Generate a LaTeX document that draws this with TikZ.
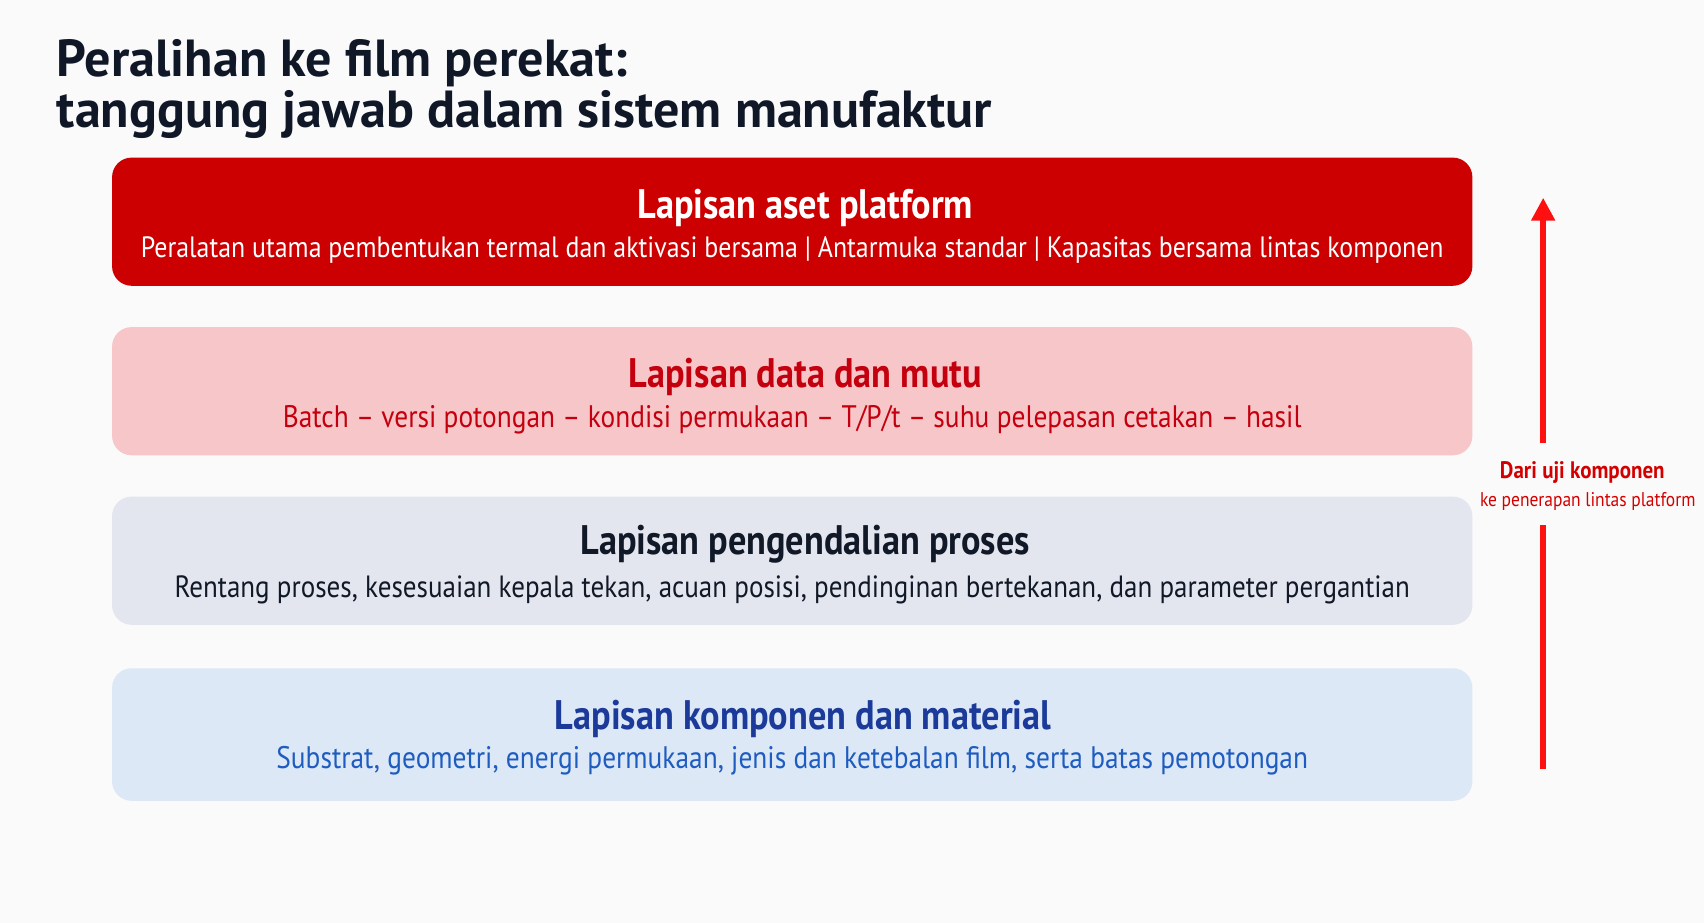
\documentclass[tikz,border=0pt]{standalone}
\usepackage{fontspec}
\setmainfont{PT Sans}
\newfontfamily\narrowsans[FakeStretch=0.88]{PT Sans}
\usetikzlibrary{positioning}
\usetikzlibrary{arrows.meta}
\definecolor{bg}{HTML}{FAFAFA}
\definecolor{titlenavy}{HTML}{101828}
\definecolor{platred}{HTML}{CC0000}
\definecolor{datapink}{HTML}{F7C6C9}
\definecolor{datared}{HTML}{C4000E}
\definecolor{procgray}{HTML}{E3E6EE}
\definecolor{procnavy}{HTML}{111827}
\definecolor{compblue}{HTML}{DCE8F6}
\definecolor{compnavy}{HTML}{1B3A9A}
\definecolor{compsub}{HTML}{1F5CC0}
\definecolor{flowred}{HTML}{FF1010}
\definecolor{flowtext}{HTML}{D40000}

\begin{document}
\begin{tikzpicture}[x=0.02cm,y=-0.02cm,node distance=3.12cm,
	layer/.style={rectangle, rounded corners=0.36cm, minimum width=25.04cm, minimum height=2.36cm, inner sep=0pt},
	head/.style={anchor=base, inner sep=0pt, font=\narrowsans\fontsize{21.6}{23}\selectfont\bfseries},
	sub/.style={anchor=base, inner sep=0pt, font=\narrowsans\fontsize{16.3}{18}\selectfont},
	big/.style={anchor=base west, inner sep=0pt, text=titlenavy, font=\fontsize{27.3}{30}\selectfont\bfseries},
	flow/.style={line width=0.1cm, draw=flowred}]
	\fill[bg] (0,0) rectangle (1568,849);
	\useasboundingbox (0,0) rectangle (1568,849);

	\node (title1) [big] at (52,70) {Peralihan ke film perekat:};
	\node (title2) [big] at (52,117) {tanggung jawab dalam sistem manufaktur};

	% layers, top to bottom
	\node (l1) [layer, fill=platred] at (729,204) {};
	\node (l2) [layer, fill=datapink, below of = l1] {};
	\node (l3) [layer, fill=procgray, below of = l2] {};
	\node (l4) [layer, fill=compblue, below of = l3, yshift=-0.08cm, minimum height=2.44cm] {};

	\node (h1) [head, text=white] at ([xshift=0.24cm, yshift=-1.12cm]l1.north) {Lapisan aset platform};
	\node (s1) [sub, text=white, font=\narrowsans\fontsize{15.4}{17}\selectfont] at ([yshift=-1.84cm]l1.north) {Peralatan utama pembentukan termal dan aktivasi bersama | Antarmuka standar | Kapasitas bersama lintas komponen};
	\node (h2) [head, text=datared] at ([xshift=0.24cm, yshift=-1.12cm]l2.north) {Lapisan data dan mutu};
	\node (s2) [sub, text=datared] at ([yshift=-1.86cm]l2.north) {Batch – versi potongan – kondisi permukaan – T/P/t – suhu pelepasan cetakan – hasil};
	\node (h3) [head, text=procnavy] at ([xshift=0.24cm, yshift=-1.08cm]l3.north) {Lapisan pengendalian proses};
	\node (s3) [sub, text=procnavy, font=\narrowsans\fontsize{16.1}{18}\selectfont] at ([yshift=-1.86cm]l3.north) {Rentang proses, kesesuaian kepala tekan, acuan posisi, pendinginan bertekanan, dan parameter pergantian};
	\node (h4) [head, text=compnavy] at ([xshift=0.2cm, yshift=-1.14cm]l4.north) {Lapisan komponen dan material};
	\node (s4) [sub, text=compsub] at ([yshift=-1.86cm]l4.north) {Substrat, geometri, energi permukaan, jenis dan ketebalan film, serta batas pemotongan};

	% upward arrow with its label
	\node (f1) [anchor=base, inner sep=0pt, text=flowtext, font=\narrowsans\fontsize{12.5}{13}\selectfont\bfseries] at (1456,440) {Dari uji komponen};
	\node (f2) [anchor=base, inner sep=0pt, text=flowtext, font=\narrowsans\fontsize{10.4}{11}\selectfont] at (1461,466) {ke penerapan lintas platform};
	\coordinate (arrB) at (1420,708);
	\coordinate (arrT) at (1420,182);
	\draw[flow] (arrB) -- ([yshift=-0.26cm]f2.south -| arrB);
	\draw[flow, -{Triangle[width=0.42cm, length=0.42cm]}] ([yshift=0.32cm]f1.north -| arrB) -- (arrT);
\end{tikzpicture}
\end{document}
